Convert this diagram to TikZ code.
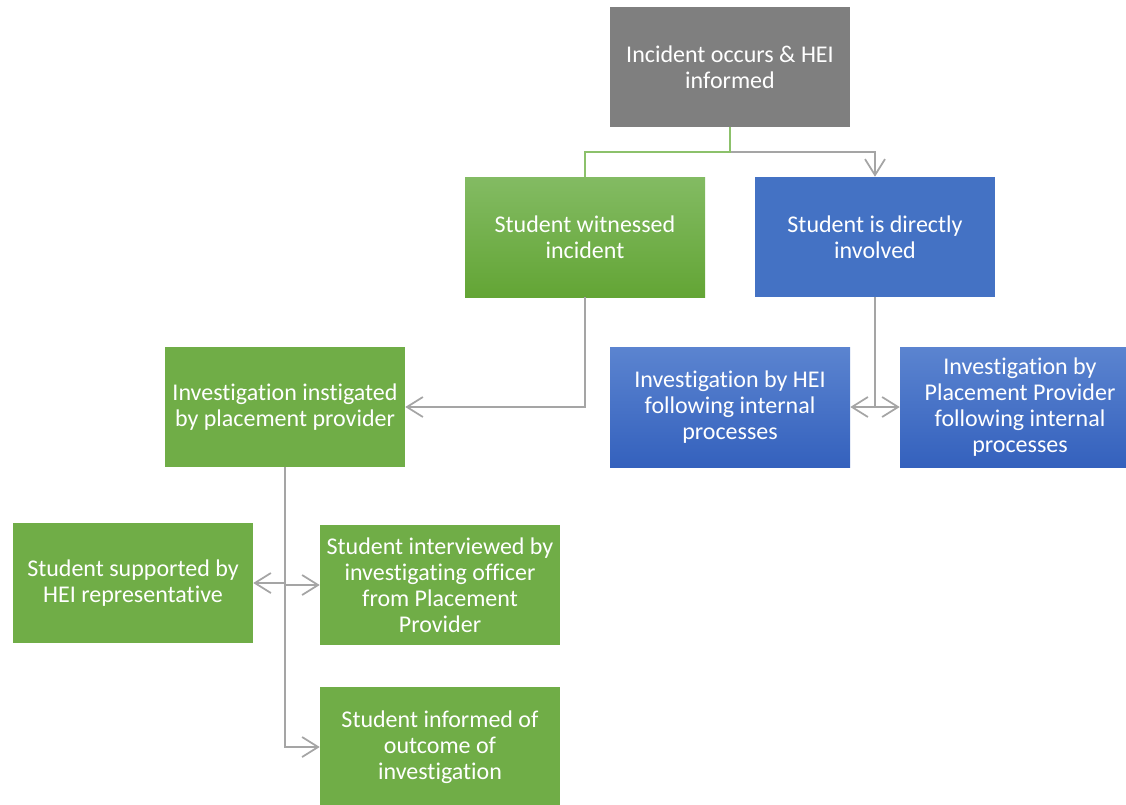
\documentclass[tikz,border=0pt]{standalone}
\usepackage{fontspec}
\setmainfont{Carlito}[Ligatures=NoCommon]
\usetikzlibrary{arrows.meta}
\definecolor{boxgray}{HTML}{7F7F7F}
\definecolor{boxgreen}{HTML}{70AD47}
\definecolor{boxblue}{HTML}{4472C4}
\definecolor{gtop}{HTML}{83BB63}
\definecolor{gbot}{HTML}{63A535}
\definecolor{btop}{HTML}{5B84D0}
\definecolor{bbot}{HTML}{3461BD}
\definecolor{linegray}{HTML}{A5A5A5}
\definecolor{linegreen}{HTML}{8CC16B}
\tikzset{
  box/.style={rectangle, minimum width=180pt, minimum height=90pt, inner sep=0pt,
    text=white, align=center, font=\fontsize{18}{19.5}\selectfont},
  flatgreen/.style={box, fill=boxgreen},
  flatblue/.style={box, fill=boxblue},
  gradgreen/.style={box, top color=gtop, bottom color=gbot},
  gradblue/.style={box, top color=btop, bottom color=bbot},
  conn/.style={draw=linegray, line width=1.5pt},
  tip/.style={-{Straight Barb[length=12pt,width=15pt,line width=1.3pt]}}
}
\begin{document}
\begin{tikzpicture}[x=0.75pt,y=-0.75pt]
\useasboundingbox (0,0) rectangle (1126,804);
\clip (0,0) rectangle (1126,804);
\node[box, fill=boxgray] (top) at (730,67) {Incident occurs \& HEI\\informed};
\node[gradgreen] (wit) at (585,237) {Student witnessed\\incident};
\node[flatblue] (dir) at (875,237) {Student is directly\\involved};
\node[flatgreen] (inst) at (285,407) {Investigation instigated\\by placement provider};
\node[gradblue] (hei) at (730,407) {Investigation by HEI\\following internal\\processes};
\node[gradblue] (pp) at (1020,407) {Investigation by\\Placement Provider\\following internal\\processes};
\node[flatgreen] (sup) at (133,583) {Student supported by\\HEI representative};
\node[flatgreen] (int) at (440,585) {Student interviewed by\\investigating officer\\from Placement\\Provider};
\node[flatgreen] (inf) at (440,747) {Student informed of\\outcome of\\investigation};
\coordinate (j1) at (730,152);
\draw[conn, tip] (j1) -| (dir.north);
\draw[draw=linegreen, line width=1.5pt] (top.south) -- (j1) -| (wit.north);
\draw[conn, tip] (wit.south) |- (inst.east);
\draw[conn, tip] (dir.south) |- (hei.east);
\draw[conn, tip] (dir.south) |- (pp.west);
\draw[conn, tip] (inst.south) |- (sup.east);
\draw[conn, tip] (inst.south) |- (int.west);
\draw[conn, tip] (inst.south) |- (inf.west);
\end{tikzpicture}
\end{document}
